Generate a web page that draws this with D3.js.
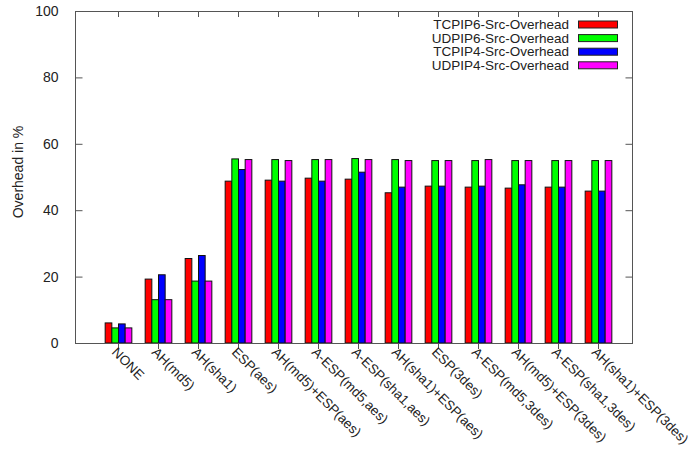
<!DOCTYPE html>
<html>
<head>
<meta charset="utf-8">
<script src="https://cdn.jsdelivr.net/npm/d3@7/dist/d3.min.js"></script>
<style>
  html, body { margin: 0; padding: 0; background: #fff; }
  svg { display: block; font-family: "Liberation Sans", Arial, sans-serif; }
</style>
</head>
<body>
<div id="chart"></div>
<script>
// Protocol configurations on the x axis
const categories = [
  "NONE", "AH(md5)", "AH(sha1)", "ESP(aes)", "AH(md5)+ESP(aes)",
  "A-ESP(md5,aes)", "A-ESP(sha1,aes)", "AH(sha1)+ESP(aes)", "ESP(3des)",
  "A-ESP(md5,3des)", "AH(md5)+ESP(3des)", "A-ESP(sha1,3des)", "AH(sha1)+ESP(3des)"
];

const seriesNames = [
  "TCPIP6-Src-Overhead", "UDPIP6-Src-Overhead",
  "TCPIP4-Src-Overhead", "UDPIP4-Src-Overhead"
];
const seriesColors = ["#ff0000", "#00ff00", "#0000ff", "#ff00ff"];

// Overhead in % per configuration
const tcpip6 = [6.2, 19.4, 25.6, 48.9, 49.2, 49.8, 49.5, 45.4, 47.4, 47.1, 46.8, 47.1, 45.9];
const udpip6 = [4.7, 13.2, 18.8, 55.6, 55.4, 55.4, 55.7, 55.4, 55.1, 55.1, 55.1, 55.1, 55.1];
const tcpip4 = [5.9, 20.7, 26.5, 52.4, 48.9, 48.9, 51.6, 47.1, 47.4, 47.4, 47.8, 47.1, 45.9];
const udpip4 = [4.7, 13.2, 18.8, 55.4, 55.1, 55.4, 55.4, 55.1, 55.1, 55.4, 55.1, 55.1, 55.1];
const seriesValues = [tcpip6, udpip6, tcpip4, udpip4];

const yTicks = [0, 20, 40, 60, 80, 100];

const W = 691, H = 455;
const box = { left: 75, right: 632, top: 11, bottom: 343 };

const svg = d3.select("#chart").append("svg")
  .attr("width", W).attr("height", H);

const y = d3.scaleLinear().domain([0, 100]).range([box.bottom, box.top]);

const x0 = d3.scaleBand().domain(categories)
  .range([98, 618]).paddingInner(1 / 3).paddingOuter(1 / 6);
const x1 = d3.scaleBand().domain(d3.range(seriesNames.length))
  .range([0, x0.bandwidth()]);

// Bars
const groups = svg.append("g").selectAll("g")
  .data(categories)
  .join("g")
  .attr("transform", d => `translate(${x0(d)},0)`);

groups.selectAll("rect")
  .data((d, i) => seriesValues.map((vals, s) => ({ s, v: vals[i] })))
  .join("rect")
  .attr("x", d => x1(d.s) + 0.5)
  .attr("y", d => y(d.v) + 0.5)
  .attr("width", x1.bandwidth())
  .attr("height", d => y(0) - y(d.v) - 0.5)
  .attr("fill", d => seriesColors[d.s])
  .attr("stroke", "#111")
  .attr("stroke-width", 1);

// Frame
const axisColor = "#555";
svg.append("rect")
  .attr("x", box.left + 0.5).attr("y", box.top + 0.5)
  .attr("width", box.right - box.left).attr("height", box.bottom - box.top)
  .attr("fill", "none").attr("stroke", axisColor).attr("stroke-width", 1);

// Y axis (left) with inward ticks
const yAxisL = d3.axisLeft(y).tickValues(yTicks).tickSizeInner(-7).tickSizeOuter(0).tickPadding(17);
const gyl = svg.append("g").attr("transform", `translate(${box.left + 0.5},0)`).call(yAxisL);
gyl.select(".domain").remove();
gyl.selectAll(".tick line").attr("stroke", axisColor);
gyl.selectAll(".tick text").attr("font-size", 14).attr("fill", "#222")
  .attr("font-family", "'Liberation Sans', Arial, sans-serif");

// Y axis mirror (right)
const yAxisR = d3.axisRight(y).tickValues(yTicks).tickSizeInner(-7).tickSizeOuter(0).tickFormat("");
const gyr = svg.append("g").attr("transform", `translate(${box.right + 0.5},0)`).call(yAxisR);
gyr.select(".domain").remove();
gyr.selectAll(".tick line").attr("stroke", axisColor);

// X axis ticks (bottom outward, top inward)
const xc = d => x0(d) + x0.bandwidth() / 2;
svg.append("g").selectAll("line.bt").data(categories).join("line")
  .attr("x1", d => xc(d) + 0.5).attr("x2", d => xc(d) + 0.5)
  .attr("y1", box.bottom).attr("y2", box.bottom + 6)
  .attr("stroke", axisColor);
svg.append("g").selectAll("line.tt").data(categories).join("line")
  .attr("x1", d => xc(d) + 0.5).attr("x2", d => xc(d) + 0.5)
  .attr("y1", box.top).attr("y2", box.top + 6)
  .attr("stroke", axisColor);

// Rotated category labels
svg.append("g").selectAll("text").data(categories).join("text")
  .attr("transform", d => `translate(${xc(d) - 7},${box.bottom + 10}) rotate(45)`)
  .attr("font-size", 13.5).attr("fill", "#222")
  .text(d => d);

// Y title
svg.append("text")
  .attr("transform", `translate(23,${(box.top + box.bottom) / 2 - 5}) rotate(-90)`)
  .attr("text-anchor", "middle").attr("font-size", 14).attr("fill", "#222")
  .text("Overhead in %");

// Legend
const legend = svg.append("g");
seriesNames.forEach((name, i) => {
  const cy = 24.5 + i * 13.6;
  legend.append("text")
    .attr("x", 569).attr("y", cy + 4.5)
    .attr("text-anchor", "end").attr("font-size", 13.5).attr("fill", "#222")
    .text(name);
  legend.append("rect")
    .attr("x", 578.5).attr("y", cy - 3.5)
    .attr("width", 39).attr("height", 7)
    .attr("fill", seriesColors[i]).attr("stroke", "#222").attr("stroke-width", 1);
});
</script>
</body>
</html>
